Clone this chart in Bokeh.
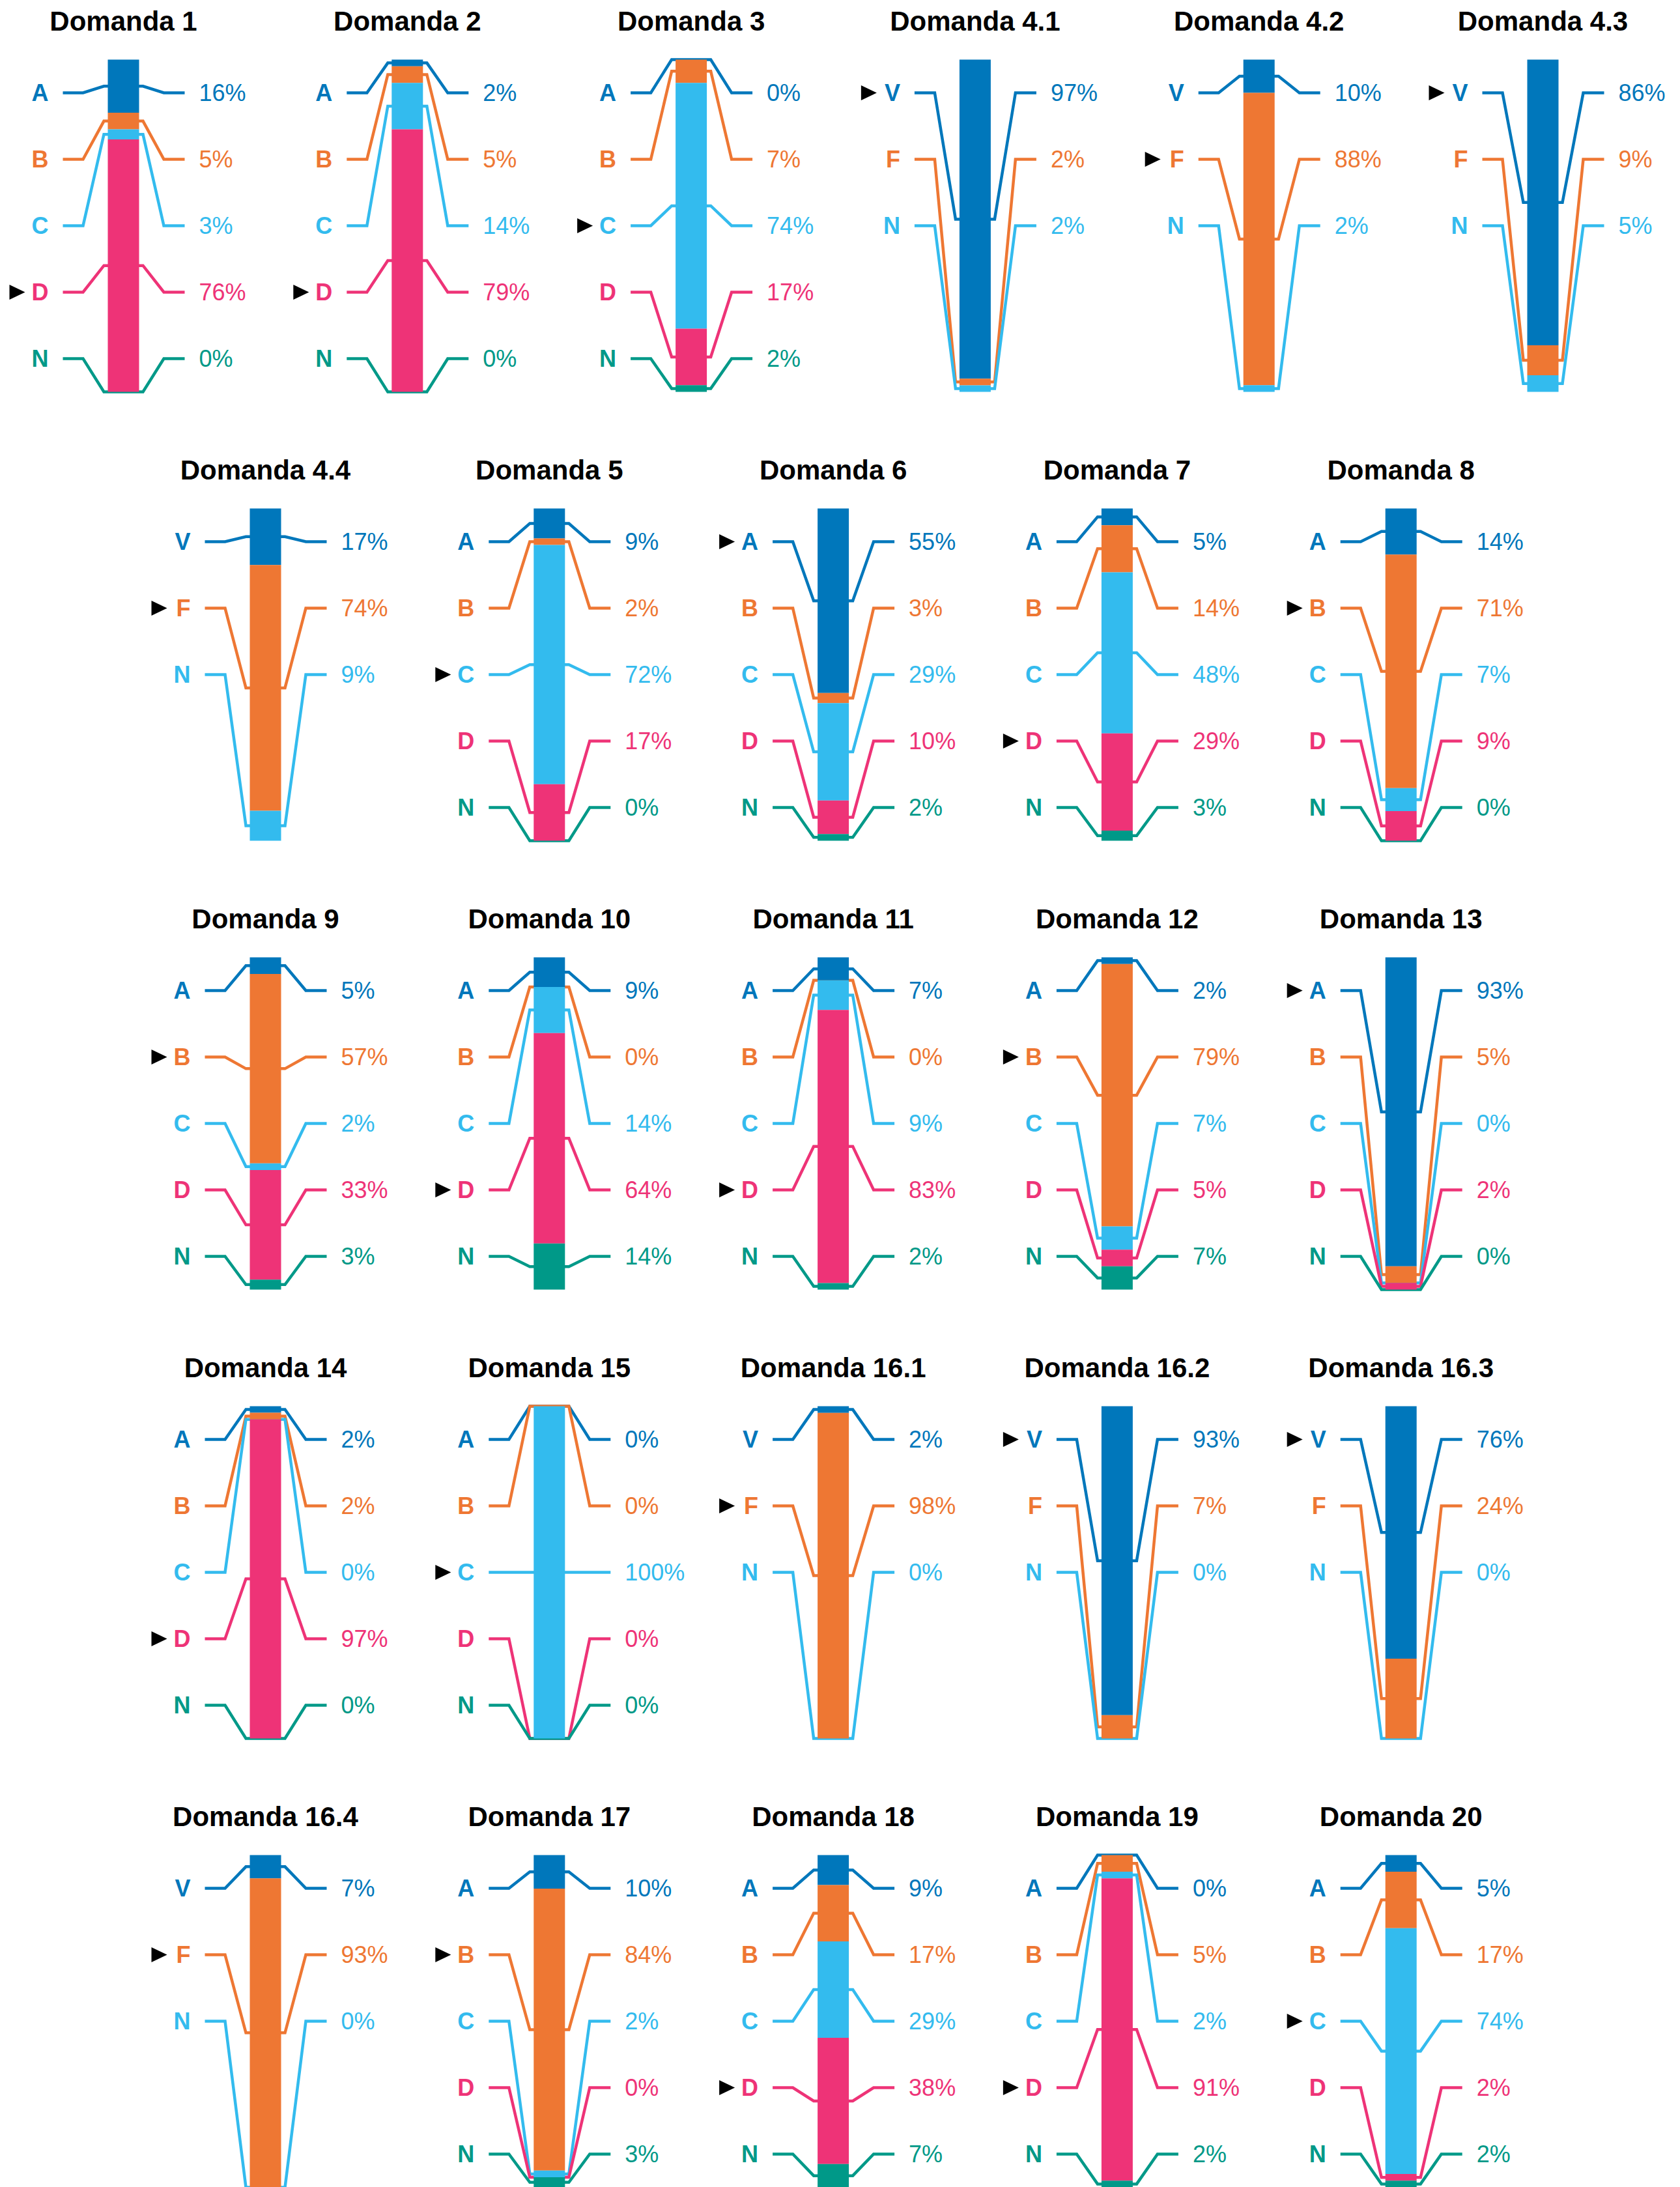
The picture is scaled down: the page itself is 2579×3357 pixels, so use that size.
from bokeh.plotting import figure
from bokeh.models import Range1d, ColumnDataSource
from bokeh.core.properties import value
from bokeh.embed import file_html
from bokeh.resources import INLINE

# ---------------- data ----------------
titles = ["Domanda 1", "Domanda 2", "Domanda 3", "Domanda 4.1", "Domanda 4.2", "Domanda 4.3",
          "Domanda 4.4", "Domanda 5", "Domanda 6", "Domanda 7", "Domanda 8",
          "Domanda 9", "Domanda 10", "Domanda 11", "Domanda 12", "Domanda 13",
          "Domanda 14", "Domanda 15", "Domanda 16.1", "Domanda 16.2", "Domanda 16.3",
          "Domanda 16.4", "Domanda 17", "Domanda 18", "Domanda 19", "Domanda 20"]
row_sizes = [6, 5, 5, 5, 5]

letters_abcdn = ["A", "B", "C", "D", "N"]
letters_vfn = ["V", "F", "N"]
colors_abcdn = ["#0077BB", "#EE7733", "#33BBEE", "#EE3377", "#009988"]
colors_vfn = ["#0077BB", "#EE7733", "#33BBEE"]

d1 = [16, 5, 3, 76, 0]
d2 = [2, 5, 14, 79, 0]
d3 = [0, 7, 74, 17, 2]
d4_1 = [97, 2, 2]
d4_2 = [10, 88, 2]
d4_3 = [86, 9, 5]
d4_4 = [17, 74, 9]
d5 = [9, 2, 72, 17, 0]
d6 = [55, 3, 29, 10, 2]
d7 = [5, 14, 48, 29, 3]
d8 = [14, 71, 7, 9, 0]
d9 = [5, 57, 2, 33, 3]
d10 = [9, 0, 14, 64, 14]
d11 = [7, 0, 9, 83, 2]
d12 = [2, 79, 7, 5, 7]
d13 = [93, 5, 0, 2, 0]
d14 = [2, 2, 0, 97, 0]
d15 = [0, 0, 100, 0, 0]
d16_1 = [2, 98, 0]
d16_2 = [93, 7, 0]
d16_3 = [76, 24, 0]
d16_4 = [7, 93, 0]
d17 = [10, 84, 2, 0, 3]
d18 = [9, 17, 29, 38, 7]
d19 = [0, 5, 2, 91, 2]
d20 = [5, 17, 74, 2, 2]

all_values = [d1, d2, d3, d4_1, d4_2, d4_3, d4_4, d5, d6, d7, d8, d9, d10, d11, d12, d13,
              d14, d15, d16_1, d16_2, d16_3, d16_4, d17, d18, d19, d20]
correct = ["D", "D", "C", "V", "F", "V", "F", "C", "A", "D", "B", "B", "D", "D", "B", "A",
           "D", "C", "F", "V", "V", "F", "B", "D", "D", "C"]

# ---------------- layout (pixels) ----------------
X0_FIRST, X0_OTHER, DX = 189.0, 407.0, 435.8
Y0, DY = 91.0, 689.0
H, SLOT = 510.0, 102.0
BAR_HALF = 24.0

line_xs, line_ys, line_col = [], [], []
q_l, q_r, q_t, q_b, q_c = [], [], [], [], []
t_x, t_y, t_text = [], [], []
l_x, l_y, l_text, l_col = [], [], [], []
p_x, p_y, p_text, p_col = [], [], [], []
a_xs, a_ys = [], []

idx = 0
for r, n in enumerate(row_sizes):
    x0 = X0_FIRST if n == 6 else X0_OTHER
    top = Y0 + r * DY
    for c in range(n):
        cx = x0 + c * DX
        vals = all_values[idx]
        if len(vals) == 5:
            letters, cols = letters_abcdn, colors_abcdn
        else:
            letters, cols = letters_vfn, colors_vfn
        total = float(sum(vals))
        cum = 0.0
        t_x.append(cx); t_y.append(top - 59.5); t_text.append(titles[idx])
        for k, v in enumerate(vals):
            ya = top + cum / total * H
            yb = top + (cum + v) / total * H
            cum += v
            ys = (ya + yb) / 2
            yl = top + SLOT / 2 + k * SLOT
            line_xs.append([cx - 93, cx - 62, cx - 30, cx + 30, cx + 62, cx + 94])
            line_ys.append([yl, yl, ys, ys, yl, yl])
            line_col.append(cols[k])
            q_l.append(cx - BAR_HALF); q_r.append(cx + BAR_HALF)
            q_t.append(ya); q_b.append(yb); q_c.append(cols[k])
            l_x.append(cx - 115); l_y.append(yl); l_text.append(letters[k]); l_col.append(cols[k])
            p_x.append(cx + 116); p_y.append(yl); p_text.append(f"{v}%"); p_col.append(cols[k])
            if letters[k] == correct[idx]:
                a_xs.append([cx - 175, cx - 175, cx - 151])
                a_ys.append([yl - 11.5, yl + 11.5, yl])
        idx += 1

W, HH = 2579, 3357
p = figure(width=W, height=HH, x_range=Range1d(0, W), y_range=Range1d(HH, 0),
           output_backend="svg", toolbar_location=None, min_border=0,
           x_axis_type=None, y_axis_type=None, outline_line_color=None)
p.grid.visible = False
p.background_fill_color = "white"
p.border_fill_color = "white"

p.multi_line(xs="xs", ys="ys", line_color="c", line_width=4.5, line_join="miter",
             source=ColumnDataSource(dict(xs=line_xs, ys=line_ys, c=line_col)))
p.quad(left="l", right="r", top="t", bottom="b", fill_color="c", line_color=None,
       source=ColumnDataSource(dict(l=q_l, r=q_r, t=q_t, b=q_b, c=q_c)))
p.patches(xs="xs", ys="ys", fill_color="black", line_color=None,
          source=ColumnDataSource(dict(xs=a_xs, ys=a_ys)))
p.text(x="x", y="y", text="t", text_font=value("Liberation Sans"), text_font_style="bold",
       text_font_size="42px", text_color="black", text_align="center", text_baseline="middle",
       source=ColumnDataSource(dict(x=t_x, y=t_y, t=t_text)))
p.text(x="x", y="y", text="t", text_font=value("Liberation Sans"), text_font_style="bold",
       text_font_size="36px", text_color="c", text_align="right", text_baseline="middle",
       source=ColumnDataSource(dict(x=l_x, y=l_y, t=l_text, c=l_col)))
p.text(x="x", y="y", text="t", text_font=value("Liberation Sans"), text_font_style="normal",
       text_font_size="36px", text_color="c", text_align="left", text_baseline="middle",
       source=ColumnDataSource(dict(x=p_x, y=p_y, t=p_text, c=p_col)))

open("out.html", "w").write(file_html(p, INLINE))
